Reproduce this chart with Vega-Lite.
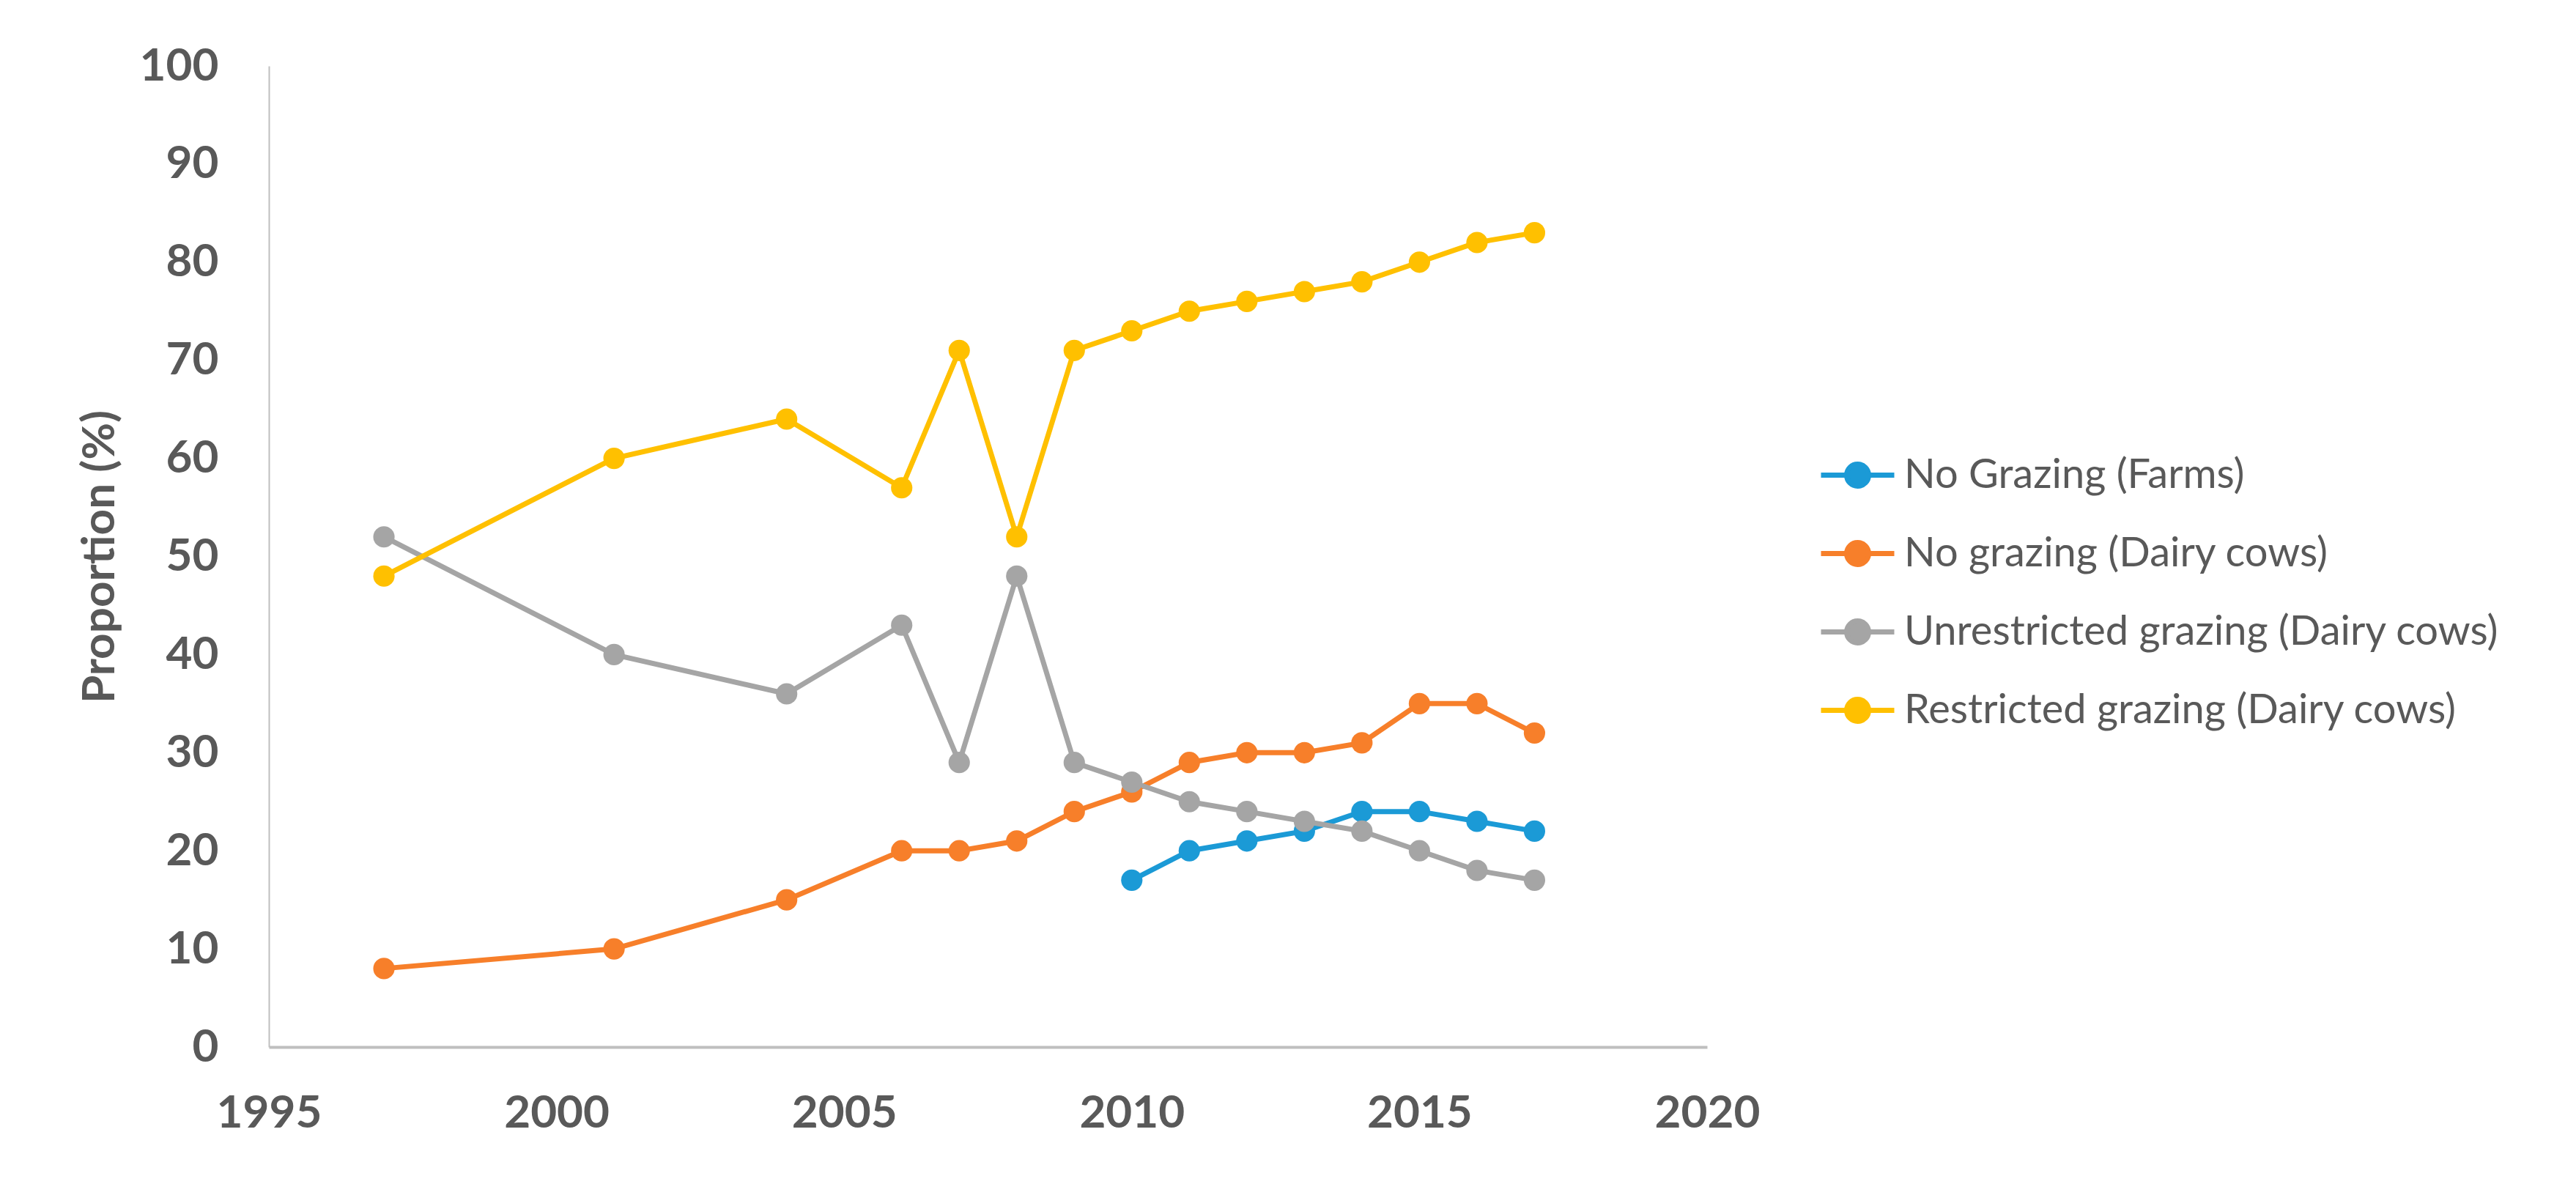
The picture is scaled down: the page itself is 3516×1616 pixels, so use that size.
{
  "$schema": "https://vega.github.io/schema/vega-lite/v6.json",
  "width": 1963,
  "height": 1339,
  "autosize": {"type": "none"},
  "padding": {"left": 367, "top": 90, "right": 1186, "bottom": 187},
  "background": "white",
  "config": {
    "view": {"stroke": null},
    "font": "Lato",
    "axis": {
      "grid": false,
      "ticks": false,
      "labelFlush": false,
      "labelColor": "#595959",
      "labelFont": "Lato",
      "labelFontWeight": "bold",
      "labelFontSize": 62,
      "titleColor": "#595959",
      "titleFont": "Lato",
      "titleFontWeight": "bold",
      "titleFontSize": 62,
      "domainColor": "#bfbfbf"
    }
  },
  "data": {
    "values": [
      {"year": 2010, "series": "No Grazing (Farms)", "value": 17},
      {"year": 2011, "series": "No Grazing (Farms)", "value": 20},
      {"year": 2012, "series": "No Grazing (Farms)", "value": 21},
      {"year": 2013, "series": "No Grazing (Farms)", "value": 22},
      {"year": 2014, "series": "No Grazing (Farms)", "value": 24},
      {"year": 2015, "series": "No Grazing (Farms)", "value": 24},
      {"year": 2016, "series": "No Grazing (Farms)", "value": 23},
      {"year": 2017, "series": "No Grazing (Farms)", "value": 22},

      {"year": 1997, "series": "No grazing (Dairy cows)", "value": 8},
      {"year": 2001, "series": "No grazing (Dairy cows)", "value": 10},
      {"year": 2004, "series": "No grazing (Dairy cows)", "value": 15},
      {"year": 2006, "series": "No grazing (Dairy cows)", "value": 20},
      {"year": 2007, "series": "No grazing (Dairy cows)", "value": 20},
      {"year": 2008, "series": "No grazing (Dairy cows)", "value": 21},
      {"year": 2009, "series": "No grazing (Dairy cows)", "value": 24},
      {"year": 2010, "series": "No grazing (Dairy cows)", "value": 26},
      {"year": 2011, "series": "No grazing (Dairy cows)", "value": 29},
      {"year": 2012, "series": "No grazing (Dairy cows)", "value": 30},
      {"year": 2013, "series": "No grazing (Dairy cows)", "value": 30},
      {"year": 2014, "series": "No grazing (Dairy cows)", "value": 31},
      {"year": 2015, "series": "No grazing (Dairy cows)", "value": 35},
      {"year": 2016, "series": "No grazing (Dairy cows)", "value": 35},
      {"year": 2017, "series": "No grazing (Dairy cows)", "value": 32},

      {"year": 1997, "series": "Unrestricted grazing (Dairy cows)", "value": 52},
      {"year": 2001, "series": "Unrestricted grazing (Dairy cows)", "value": 40},
      {"year": 2004, "series": "Unrestricted grazing (Dairy cows)", "value": 36},
      {"year": 2006, "series": "Unrestricted grazing (Dairy cows)", "value": 43},
      {"year": 2007, "series": "Unrestricted grazing (Dairy cows)", "value": 29},
      {"year": 2008, "series": "Unrestricted grazing (Dairy cows)", "value": 48},
      {"year": 2009, "series": "Unrestricted grazing (Dairy cows)", "value": 29},
      {"year": 2010, "series": "Unrestricted grazing (Dairy cows)", "value": 27},
      {"year": 2011, "series": "Unrestricted grazing (Dairy cows)", "value": 25},
      {"year": 2012, "series": "Unrestricted grazing (Dairy cows)", "value": 24},
      {"year": 2013, "series": "Unrestricted grazing (Dairy cows)", "value": 23},
      {"year": 2014, "series": "Unrestricted grazing (Dairy cows)", "value": 22},
      {"year": 2015, "series": "Unrestricted grazing (Dairy cows)", "value": 20},
      {"year": 2016, "series": "Unrestricted grazing (Dairy cows)", "value": 18},
      {"year": 2017, "series": "Unrestricted grazing (Dairy cows)", "value": 17},

      {"year": 1997, "series": "Restricted grazing (Dairy cows)", "value": 48},
      {"year": 2001, "series": "Restricted grazing (Dairy cows)", "value": 60},
      {"year": 2004, "series": "Restricted grazing (Dairy cows)", "value": 64},
      {"year": 2006, "series": "Restricted grazing (Dairy cows)", "value": 57},
      {"year": 2007, "series": "Restricted grazing (Dairy cows)", "value": 71},
      {"year": 2008, "series": "Restricted grazing (Dairy cows)", "value": 52},
      {"year": 2009, "series": "Restricted grazing (Dairy cows)", "value": 71},
      {"year": 2010, "series": "Restricted grazing (Dairy cows)", "value": 73},
      {"year": 2011, "series": "Restricted grazing (Dairy cows)", "value": 75},
      {"year": 2012, "series": "Restricted grazing (Dairy cows)", "value": 76},
      {"year": 2013, "series": "Restricted grazing (Dairy cows)", "value": 77},
      {"year": 2014, "series": "Restricted grazing (Dairy cows)", "value": 78},
      {"year": 2015, "series": "Restricted grazing (Dairy cows)", "value": 80},
      {"year": 2016, "series": "Restricted grazing (Dairy cows)", "value": 82},
      {"year": 2017, "series": "Restricted grazing (Dairy cows)", "value": 83}
    ]
  },
  "mark": {
    "type": "line",
    "strokeWidth": 7,
    "point": {"filled": true, "size": 850, "opacity": 1}
  },
  "encoding": {
    "x": {
      "field": "year",
      "type": "quantitative",
      "scale": {"domain": [1995, 2020], "nice": false, "zero": false},
      "axis": {
        "title": null,
        "values": [1995, 2000, 2005, 2010, 2015, 2020],
        "format": "d",
        "labelPadding": 60,
        "domainWidth": 4
      }
    },
    "y": {
      "field": "value",
      "type": "quantitative",
      "scale": {"domain": [0, 100], "nice": false},
      "axis": {
        "title": "Proportion (%)",
        "values": [0, 10, 20, 30, 40, 50, 60, 70, 80, 90, 100],
        "labelPadding": 69,
        "titlePadding": 22,
        "domainWidth": 2
      }
    },
    "color": {
      "field": "series",
      "type": "nominal",
      "sort": [
        "No Grazing (Farms)",
        "No grazing (Dairy cows)",
        "Unrestricted grazing (Dairy cows)",
        "Restricted grazing (Dairy cows)"
      ],
      "scale": {
        "domain": [
          "No Grazing (Farms)",
          "No grazing (Dairy cows)",
          "Unrestricted grazing (Dairy cows)",
          "Restricted grazing (Dairy cows)"
        ],
        "range": ["#1b9ad6", "#f77f2a", "#a5a5a5", "#ffc000"]
      },
      "legend": {
        "title": null,
        "orient": "none",
        "legendX": 2115,
        "legendY": 505,
        "padding": 0,
        "symbolType": "M-1,0H1M-0.3,0a0.3,0.3 0 1,0 0.6,0a0.3,0.3 0 1,0 -0.6,0",
        "symbolSize": 10000,
        "symbolStrokeWidth": 7,
        "labelFont": "Lato",
        "labelFontSize": 56,
        "labelColor": "#595959",
        "labelOffset": 10,
        "labelLimit": 2000,
        "rowPadding": 24
      }
    },
    "order": {"field": "year"}
  }
}
